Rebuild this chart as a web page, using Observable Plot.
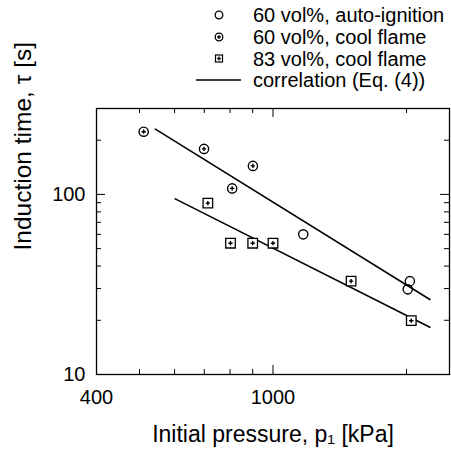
<!DOCTYPE html>
<html><head><meta charset="utf-8">
<script src="https://cdn.jsdelivr.net/npm/d3@7"></script>
<script src="https://cdn.jsdelivr.net/npm/@observablehq/plot@0.6"></script>
<style>
body{margin:0;background:#fff;font-family:"Liberation Sans",Arial,Helvetica,sans-serif;color:#000;}
#legend{position:relative;width:451px;height:92px;}
#legend svg{position:absolute;left:0;top:0;}
#chart svg{display:block;}
</style></head><body>
<div id="legend"></div>
<div id="chart"></div>
<script>
// ---- data ----
const autoP = [1170, 2035, 2013];
const autoT = [60, 33.0, 29.7];
const cool60P = [511, 699, 809, 901];
const cool60T = [223, 179, 108, 144];
const cool83P = [713, 802, 900, 1000, 1500, 2050];
const cool83T = [89.5, 53.6, 53.6, 53.6, 33.0, 19.9];
const corrUpperP = [543, 2258];
const corrUpperT = [230.6, 26.1];
const corrLowerP = [602, 2258];
const corrLowerT = [94.5, 18.3];
const legendLabels = ["60 vol%, auto-ignition", "60 vol%, cool flame", "83 vol%, cool flame", "correlation (Eq. (4))"];
const xTickLabels = [400, 1000];
const yTickLabels = [10, 100];
const xMajorTicks = [1000];
const xMinorTicks = [500, 600, 700, 800, 900, 2000];
const yMajorTicks = [100];
const yMinorTicks = [20, 30, 40, 50, 60, 70, 80, 90, 200];
const xTitle = "Initial pressure, p\u2081 [kPa]";
const yTitle = "Induction time, \u03c4 [s]";

const toRows = (P, T) => P.map((p, i) => ({p, t: T[i]}));
const auto = toRows(autoP, autoT);
const cool60 = toRows(cool60P, cool60T);
const cool83 = toRows(cool83P, cool83T);
const upper = toRows(corrUpperP, corrUpperT);
const lower = toRows(corrLowerP, corrLowerT);

// ---- layout ----
const W = 451, H = 364, mt = 16, mb = 82, ml = 96, mr = 2;
const innerH = H - mt - mb, innerW = W - ml - mr;
const minorLen = 5, majorLen = 9;
const font = '"Liberation Sans", Arial, Helvetica, sans-serif';

const chart = Plot.plot({
  width: W, height: H,
  marginTop: mt, marginBottom: mb, marginLeft: ml, marginRight: mr,
  x: {type: "log", domain: [400, 2500]},
  y: {type: "log", domain: [10, 300]},
  style: {fontFamily: font, fontSize: "20px", color: "#000", background: "#fff", overflow: "visible"},
  marks: [
    // inward ticks: bottom / top
    Plot.ruleX(xMinorTicks, {x: d => d, insetTop: innerH - minorLen, stroke: "#000"}),
    Plot.ruleX(xMajorTicks, {x: d => d, insetTop: innerH - majorLen, stroke: "#000"}),
    Plot.ruleX(xMinorTicks, {x: d => d, insetBottom: innerH - minorLen, stroke: "#000"}),
    Plot.ruleX(xMajorTicks, {x: d => d, insetBottom: innerH - majorLen, stroke: "#000"}),
    // inward ticks: left / right
    Plot.ruleY(yMinorTicks, {y: d => d, insetRight: innerW - minorLen, stroke: "#000"}),
    Plot.ruleY(yMajorTicks, {y: d => d, insetRight: innerW - majorLen, stroke: "#000"}),
    Plot.ruleY(yMinorTicks, {y: d => d, insetLeft: innerW - minorLen, stroke: "#000"}),
    Plot.ruleY(yMajorTicks, {y: d => d, insetLeft: innerW - majorLen, stroke: "#000"}),
    Plot.frame({stroke: "#000", strokeWidth: 1.3}),
    Plot.axisX(xTickLabels, {tickSize: 0, tickPadding: 15, label: null, fontSize: 20, tickFormat: d => String(d)}),
    Plot.axisY(yTickLabels, {tickSize: 0, tickPadding: 11, label: null, fontSize: 20, tickFormat: d => String(d)}),
    Plot.text([xTitle], {frameAnchor: "bottom", dy: 67, fontSize: 23}),
    Plot.text([yTitle], {frameAnchor: "left", dx: -73, dy: 9, rotate: -90, fontSize: 24.5}),
    // correlation lines
    Plot.line(upper, {x: "p", y: "t", stroke: "#000", strokeWidth: 1.6}),
    Plot.line(lower, {x: "p", y: "t", stroke: "#000", strokeWidth: 1.6}),
    // 60 vol% auto-ignition: open circles
    Plot.dot(auto, {x: "p", y: "t", r: 4.6, stroke: "#000", strokeWidth: 1.4, fill: "none"}),
    // 60 vol% cool flame: circle with dot
    Plot.dot(cool60, {x: "p", y: "t", r: 4.6, stroke: "#000", strokeWidth: 1.4, fill: "#fff"}),
    Plot.dot(cool60, {x: "p", y: "t", symbol: "cross", r: 1.8, fill: "#000"}),
    // 83 vol% cool flame: square with dot
    Plot.dot(cool83, {x: "p", y: "t", symbol: "square", r: 5.4, stroke: "#000", strokeWidth: 1.3, fill: "#fff"}),
    Plot.dot(cool83, {x: "p", y: "t", symbol: "cross", r: 1.8, fill: "#000"})
  ]
});
document.getElementById("chart").appendChild(chart);

// ---- legend (above the plot) ----
const rowY = [15, 37, 58.5, 80];
const markX = 219, textX = 253;
const lg = d3.select("#legend").append("svg").attr("width", W).attr("height", 92)
  .style("font-family", font);
legendLabels.forEach((lab, i) => {
  const y = rowY[i];
  const g = lg.append("g");
  if (i === 0) {
    g.append("circle").attr("cx", markX).attr("cy", y).attr("r", 3.8).attr("fill", "none").attr("stroke", "#000").attr("stroke-width", 1.3);
  } else if (i === 1) {
    g.append("circle").attr("cx", markX).attr("cy", y).attr("r", 3.8).attr("fill", "#fff").attr("stroke", "#000").attr("stroke-width", 1.3);
    g.append("path").attr("transform", `translate(${markX},${y})`).attr("d", d3.symbol(d3.symbolCross, 8)()).attr("fill", "#000");
  } else if (i === 2) {
    g.append("rect").attr("x", markX - 3.5).attr("y", y - 3.5).attr("width", 7).attr("height", 7).attr("fill", "#fff").attr("stroke", "#000").attr("stroke-width", 1.2);
    g.append("path").attr("transform", `translate(${markX},${y})`).attr("d", d3.symbol(d3.symbolCross, 8)()).attr("fill", "#000");
  } else {
    g.append("line").attr("x1", 196).attr("x2", 241).attr("y1", y).attr("y2", y).attr("stroke", "#000").attr("stroke-width", 1.4);
  }
  g.append("text").attr("x", textX).attr("y", y).attr("dy", "0.35em").attr("font-size", 20).attr("fill", "#000").text(lab);
});
</script>
</body></html>
